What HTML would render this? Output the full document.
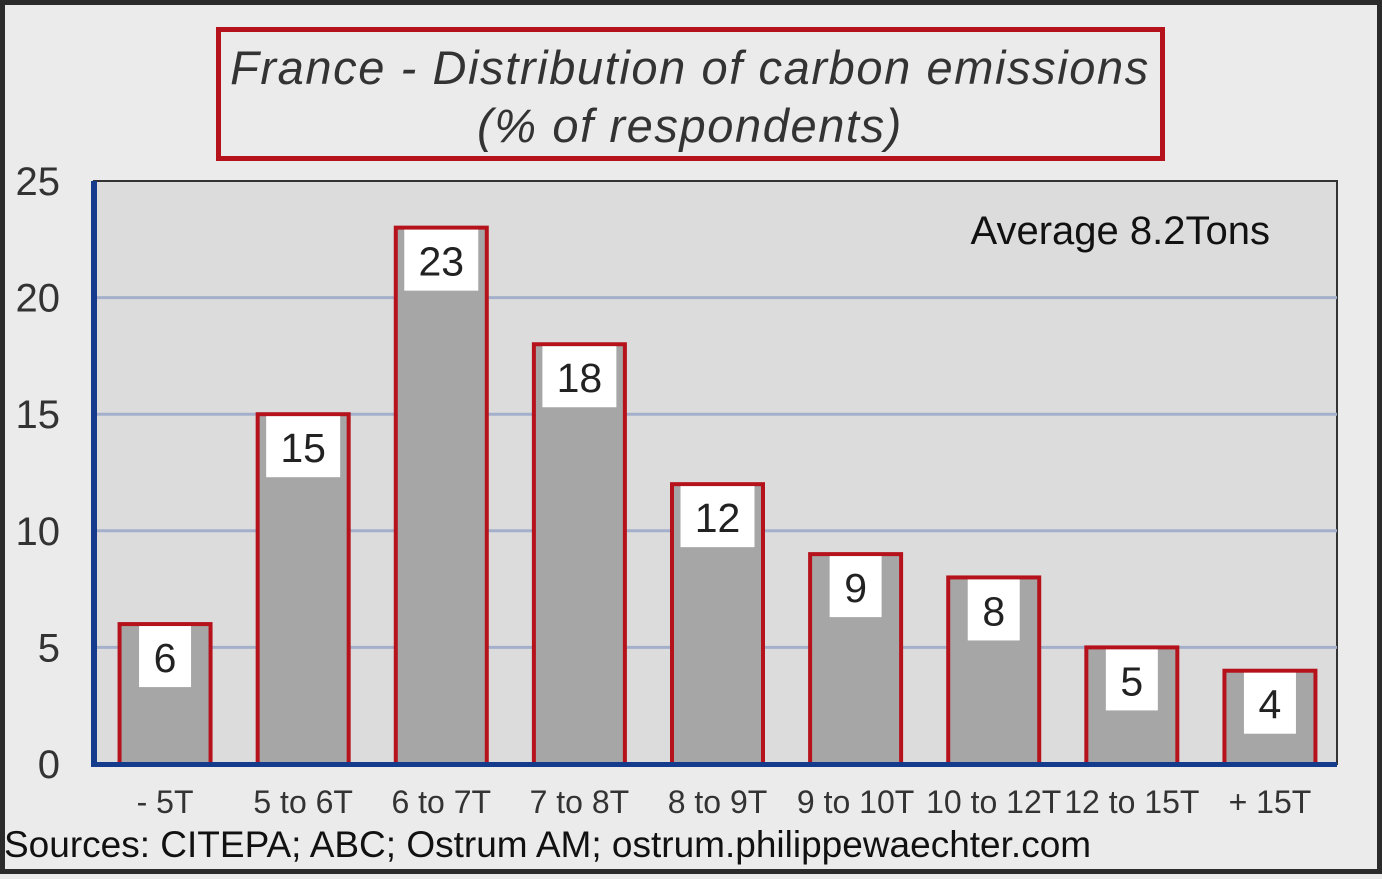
<!DOCTYPE html>
<html><head><meta charset="utf-8"><style>
html,body{margin:0;padding:0}
body{width:1382px;height:874px;overflow:hidden;background:#ebebeb;font-family:"Liberation Sans",sans-serif}
</style></head><body>
<svg width="1382" height="874" xmlns="http://www.w3.org/2000/svg">
<rect x="2.5" y="2.5" width="1377" height="869" fill="#ebebeb" stroke="#2b2b2b" stroke-width="5"/>
<rect x="218.5" y="29.5" width="944" height="129" fill="#ebebeb" stroke="#b5121b" stroke-width="5"/>
<text x="690" y="84" text-anchor="middle" font-size="47" letter-spacing="1.6" font-style="italic" fill="#333">France - Distribution of carbon emissions</text>
<text x="690" y="142" text-anchor="middle" font-size="47" letter-spacing="1.6" font-style="italic" fill="#333">(% of respondents)</text>
<rect x="94" y="181" width="1243" height="583" fill="#dcdcdc" stroke="#333" stroke-width="2"/>
<g id="grid"></g>
<g id="bars"></g>
<line x1="94" y1="181" x2="94" y2="767" stroke="#143b8c" stroke-width="6"/>
<line x1="91" y1="764.5" x2="1337" y2="764.5" stroke="#143b8c" stroke-width="5"/>
<g id="yticks"></g>
<g id="xlabels"></g>
<text x="1270" y="244" text-anchor="end" font-size="40" fill="#111">Average 8.2Tons</text>
<text x="4" y="857" font-size="37" fill="#111">Sources: CITEPA; ABC; Ostrum AM; ostrum.philippewaechter.com</text>
</svg>
<script>
const categories=["- 5T","5 to 6T","6 to 7T","7 to 8T","8 to 9T","9 to 10T","10 to 12T","12 to 15T","+ 15T"];
const values=[6,15,23,18,12,9,8,5,4];
const yTicks=[0,5,10,15,20,25];
const NS="http://www.w3.org/2000/svg";
const x0=94,x1=1337,yBase=764,yTop=181,yMax=25;
const y=v=>yBase-(v/yMax)*(yBase-yTop);
const band=(x1-x0)/categories.length;
const xc=i=>x0+band*(i+0.5);
function mk(tag,attrs,parent){const e=document.createElementNS(NS,tag);for(const k in attrs)e.setAttribute(k,attrs[k]);document.getElementById(parent).appendChild(e);return e;}
yTicks.forEach(t=>{
  if(t>0&&t<yMax){const l=mk('line',{x1:x0,x2:x1,y1:y(t),y2:y(t),stroke:'#a4b0cb','stroke-width':3},'grid');
  
  }
  const tx=mk('text',{x:60,y:y(t)+14,'text-anchor':'end','font-size':40,fill:'#333'},'yticks');
  tx.textContent=t;
  
  
});
values.forEach((v,i)=>{
  const bw=91,cx=xc(i)+2;
  const r=mk('rect',{x:cx-bw/2,y:y(v),width:bw,height:yBase-y(v),fill:'#a6a6a6',stroke:'#b5121b','stroke-width':4},'bars');
  
  
  const s=String(v);const w=s.length>1?74:52;
  const b=mk('rect',{x:cx-w/2,y:y(v)+2,width:w,height:61,fill:'#fff'},'bars');
  
  
  const t=mk('text',{x:cx,y:y(v)+48,'text-anchor':'middle','font-size':41,fill:'#222'},'bars');
  t.textContent=s;
  
  
  const xl=mk('text',{x:xc(i)+2,y:813,'text-anchor':'middle','font-size':32,fill:'#333'},'xlabels');
  xl.textContent=categories[i];
  
  
});
</script>
</body></html>
